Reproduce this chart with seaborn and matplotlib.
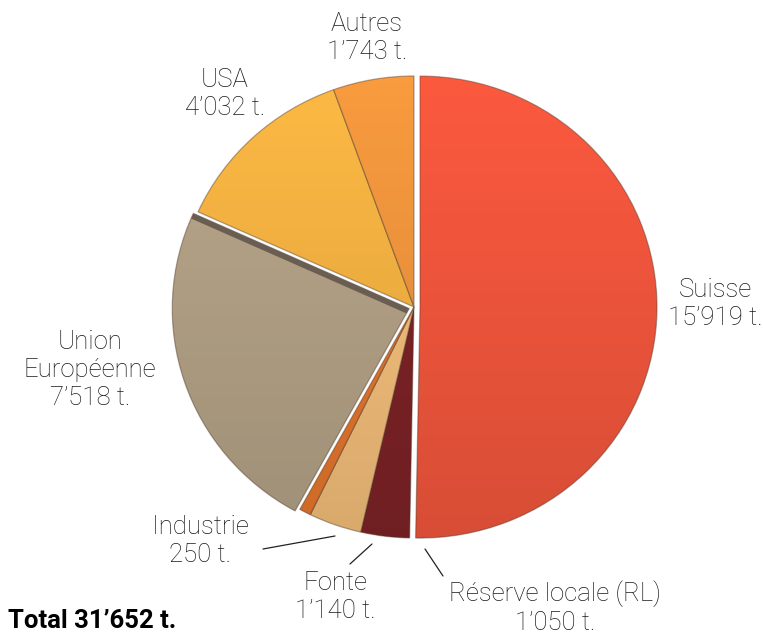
import numpy as np
import matplotlib
matplotlib.use("Agg")
import matplotlib.pyplot as plt
import seaborn as sns

# Tonnage by destination
categories = ["Suisse", "Réserve locale (RL)", "Fonte", "Industrie",
              "Union\nEuropéenne", "USA", "Autres"]
tonnes = [15919, 1050, 1140, 250, 7518, 4032, 1743]
value_labels = ["15’919 t.", "1’050 t.", "1’140 t.", "250 t.",
                "7’518 t.", "4’032 t.", "1’743 t."]
total_label = "Total 31’652 t."

colors = ["#FC5A3F", "#822428", "#FDC67F", "#EF7B2E",
          "#BAA88B", "#FEBA44", "#FA9C3F"]
# offsets of the pulled-out slices, in pixels
explode_px = [6, 0, 0, 0, 5, 0, 0]

sns.set_style("white")
plt.rcParams["font.family"] = ["Roboto", "DejaVu Sans"]

W, H = 763, 637
fig = plt.figure(figsize=(W / 100, H / 100), dpi=100)
ax = fig.add_axes([0, 0, 1, 1])

# slightly flattened pie: stretch the y data range
rx, ry = 237.0, 231.0
k = rx / ry


def P(px, py):
    """pixel position -> data coordinates"""
    return px, (H - py) * k


cx, cy = P(414, 307)
wedges, _ = ax.pie(tonnes, colors=colors, startangle=90, counterclock=False,
                   explode=explode_px, center=(cx, cy), radius=rx,
                   wedgeprops=dict(edgecolor=(0.35, 0.26, 0.2, 0.45),
                                   linewidth=0.9))

# soft top-to-bottom shading inside each wedge
grad = np.zeros((256, 2, 4))
grad[..., 3] = np.linspace(0.0, 0.15, 256)[:, None]
for w in wedges:
    im = ax.imshow(grad, extent=(cx - rx - 20, cx + rx + 20,
                                 cy - rx - 20, cy + rx + 20),
                   origin="upper", aspect="auto", zorder=w.get_zorder() + 0.1,
                   interpolation="bilinear")
    im.set_clip_path(w)

# darker rim along the upper side of the EU slice
eu = wedges[categories.index("Union\nEuropéenne")]
a = np.deg2rad(eu.theta1)
ex, ey = eu.center
rim, = ax.plot([ex, ex + eu.r * np.cos(a)], [ey, ey + eu.r * np.sin(a)],
               color="#6A5E52", lw=8, solid_capstyle="butt",
               zorder=eu.get_zorder() + 0.2)
rim.set_clip_path(eu)

ax.set_xlim(0, W)
ax.set_ylim(0, H * k)
ax.set_aspect("auto")
ax.axis("off")

fs = 18.5
label_pos = {
    "Suisse": (715, 304),
    "Réserve locale (RL)": (555, 608),
    "Fonte": (335, 597),
    "Industrie": (200, 541),
    "Union\nEuropéenne": (90, 370),
    "USA": (225, 94),
    "Autres": (367, 38),
}
for cat, val in zip(categories, value_labels):
    x, y = P(*label_pos[cat])
    ax.text(x, y, f"{cat}\n{val}", ha="center", va="center", fontsize=fs,
            fontweight="light", color="#1a1a1a", linespacing=1.2)

# leader lines for the thin slices
leaders = [((263, 549), (335, 536)),
           ((350, 564), (372, 544)),
           ((425, 549), (443, 576))]
for (x0, y0), (x1, y1) in leaders:
    a0, b0 = P(x0, y0)
    a1, b1 = P(x1, y1)
    ax.plot([a0, a1], [b0, b1], color="#222222", lw=0.9)

tx, ty = P(8, 621)
ax.text(tx, ty, total_label, ha="left", va="center", fontsize=18.5,
        fontweight="bold", color="black")

fig.savefig("out.png", dpi=100, facecolor="white")
